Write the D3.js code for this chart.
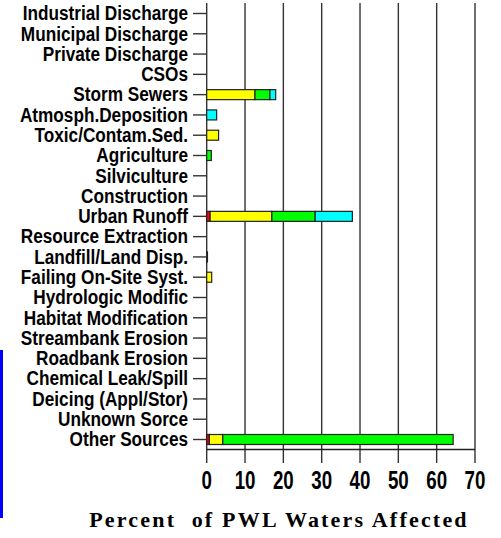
<!DOCTYPE html>
<html><head><meta charset="utf-8">
<script src="https://cdn.jsdelivr.net/npm/d3@7"></script>
<style>body{margin:0;background:#fff}svg{display:block}</style>
</head><body>
<svg id="c" width="501" height="538"></svg>
<script>
const categories = ["Industrial Discharge","Municipal Discharge","Private Discharge","CSOs","Storm Sewers","Atmosph.Deposition","Toxic/Contam.Sed.","Agriculture","Silviculture","Construction","Urban Runoff","Resource Extraction","Landfill/Land Disp.","Failing On-Site Syst.","Hydrologic Modific","Habitat Modification","Streambank Erosion","Roadbank Erosion","Chemical Leak/Spill","Deicing (Appl/Stor)","Unknown Sorce","Other Sources"];
const redVals    = [0,0,0,0,0,   0,  0,  0,  0,0,0.9, 0,0,  0,  0,0,0,0,0,0,0,0.7];
const yellowVals = [0,0,0,0,12.6,0,  3.1,0,  0,0,16.1,0,0.2,1.3,0,0,0,0,0,0,0,3.5];
const greenVals  = [0,0,0,0,3.9, 0,  0,  1.2,0,0,11.3,0,0,  0,  0,0,0,0,0,0,0,60.1];
const cyanVals   = [0,0,0,0,1.5, 2.6,0,  0,  0,0,9.7, 0,0,  0,  0,0,0,0,0,0,0,0];
const seriesNames = ["red","yellow","green","cyan"];
const seriesColors = ["#ff0000","#ffff00","#00ff00","#00ffff"];
const xTicks = [0,10,20,30,40,50,60,70];
const xTitle = "Percent  of PWL Waters Affected";

const rows = categories.map((c,i)=>({cat:c, red:redVals[i], yellow:yellowVals[i], green:greenVals[i], cyan:cyanVals[i]}));
const stacked = d3.stack().keys(seriesNames)(rows);

const svg = d3.select("#c");
const x = d3.scaleLinear().domain([0,70]).range([206.7,475]);
const y = d3.scalePoint().domain(categories).range([13.5,439.5]);
const plotTop = 3, axisY = 449.5, tickBottom = 463;

// blue bar on left
svg.append("rect").attr("x",0).attr("y",350).attr("width",3).attr("height",168).attr("fill","#0000ff");

// gridlines
svg.append("g").selectAll("line").data(xTicks).join("line")
  .attr("x1",d=>x(d)).attr("x2",d=>x(d)).attr("y1",plotTop).attr("y2",tickBottom)
  .attr("stroke","#333").attr("stroke-width",1.4);

// x axis line
svg.append("line").attr("x1",x(0)).attr("x2",x(70)).attr("y1",axisY).attr("y2",axisY)
  .attr("stroke","#222").attr("stroke-width",1.4);

// y ticks
svg.append("g").selectAll("line").data(categories).join("line")
  .attr("x1",193).attr("x2",x(0)).attr("y1",d=>y(d)).attr("y2",d=>y(d))
  .attr("stroke","#333").attr("stroke-width",1.4);

// bars
const bh = 10;
svg.append("g").selectAll("g").data(stacked).join("g")
  .attr("fill",(d,i)=>seriesColors[i])
  .selectAll("rect").data(d=>d.filter(p=>p[1]-p[0]>0)).join("rect")
  .attr("x",d=>x(d[0])).attr("width",d=>x(d[1])-x(d[0]))
  .attr("y",d=>y(d.data.cat)-bh/2).attr("height",bh)
  .attr("stroke","#222").attr("stroke-width",1.2);

// category labels (condensed, heavy)
const sy = 1.1;
const lg = svg.append("g").attr("transform",`translate(188,0) scale(0.93,${sy})`);
lg.selectAll("text").data(categories).join("text")
  .attr("x",0).attr("y",d=>(y(d)+6.8)/sy).attr("text-anchor","end")
  .attr("font-family","Liberation Sans, Arial, sans-serif").attr("font-size",18.5).attr("font-weight","bold")
  .attr("fill","#000").text(d=>d);

// x tick labels (condensed)
svg.append("g").selectAll("text").data(xTicks).join("text")
  .attr("transform",d=>`translate(${x(d)},489) scale(0.72,1.02)`)
  .attr("text-anchor","middle")
  .attr("font-family","Liberation Sans, Arial, sans-serif").attr("font-size",26).attr("font-weight","bold")
  .attr("fill","#000").text(d=>d);

// axis title
svg.append("text").attr("x",279).attr("y",527).attr("text-anchor","middle")
  .attr("font-family","Liberation Serif, Times New Roman, serif").attr("font-weight","bold")
  .attr("font-size",22).attr("letter-spacing",2.2).attr("fill","#000")
  .style("white-space","pre").text(xTitle);
</script>
</body></html>
